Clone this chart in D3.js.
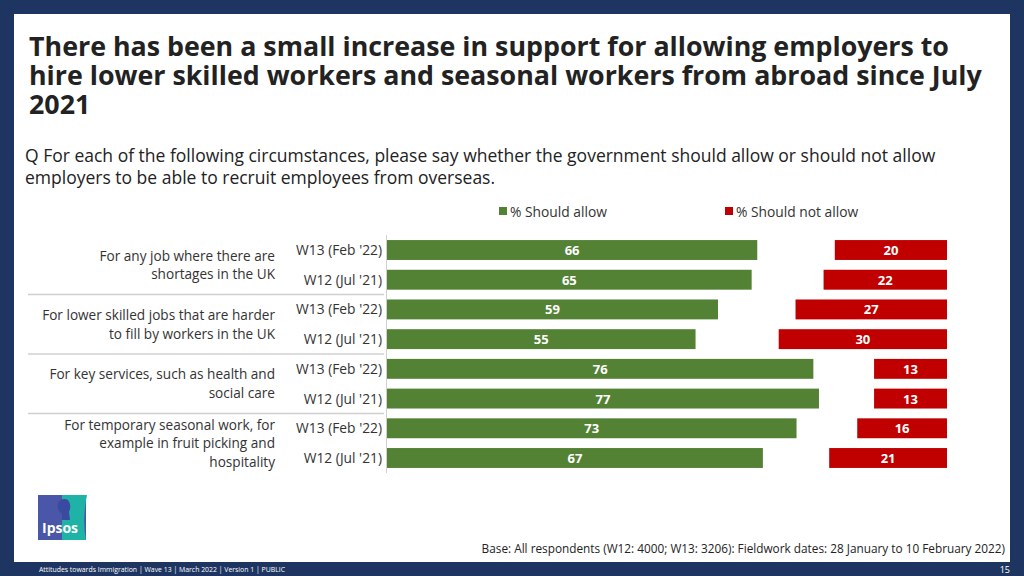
<!DOCTYPE html>
<html><head><meta charset="utf-8">
<script src="https://cdn.jsdelivr.net/npm/d3@7"></script>
<style>body{margin:0;overflow:hidden}svg{display:block;font-family:"Open Sans",sans-serif}</style>
</head><body><svg id="chart" width="1024" height="576"></svg>
<script>
// data
var groups = ["For any job where there are|shortages in the UK",
  "For lower skilled jobs that are harder|to fill by workers in the UK",
  "For key services, such as health and|social care",
  "For temporary seasonal work, for|example in fruit picking and|hospitality"];
var waves = ["W13 (Feb '22)", "W12 (Jul '21)"];
var allow = [66, 65, 59, 55, 76, 77, 73, 67];
var notAllow = [20, 22, 27, 30, 13, 13, 16, 21];
var seriesNames = ["% Should allow", "% Should not allow"];
var colors = ["#548235", "#c00000"];

var svg = d3.select("#chart");
var navy = "#1d3560";
svg.append("rect").attr("width", 1024).attr("height", 576).attr("fill", navy);
svg.append("rect").attr("x", 14).attr("y", 14).attr("width", 996).attr("height", 548).attr("fill", "#fff");

var title = ["There has been a small increase in support for allowing employers to",
  "hire lower skilled workers and seasonal workers from abroad since July", "2021"];
svg.append("text").attr("x", 29).attr("y", 56).attr("font-size", 26.8).attr("font-weight", "bold").attr("fill", "#222")
  .selectAll("tspan").data(title).enter().append("tspan").attr("x", 29).attr("dy", function(d, i) { return i ? 29 : 0; }).text(function(d) { return d; });

svg.append("text").attr("x", 25).attr("y", 162).attr("font-size", 17.5).attr("fill", "#222")
  .selectAll("tspan").data(["Q For each of the following circumstances, please say whether the government should allow or should not allow",
    "employers to be able to recruit employees from overseas."])
  .enter().append("tspan").attr("x", 25).attr("dy", function(d, i) { return i ? 22 : 0; }).text(function(d) { return d; });

// legend
var lx = [499, 725];
seriesNames.forEach(function(n, i) {
  svg.append("rect").attr("x", lx[i]).attr("y", 207).attr("width", 8).attr("height", 8).attr("fill", colors[i]);
  svg.append("text").attr("x", lx[i] + 11).attr("y", 217).attr("font-size", 13.8).attr("fill", "#333").text(n);
});

var rows = d3.range(allow.length);
var y = d3.scaleBand().domain(rows).range([235, 473]).paddingInner(0.33).paddingOuter(0.17);
var x = d3.scaleLinear().domain([0, 100]).range([0, 561]);
var x0 = 387, xr = 947;

svg.append("line").attr("x1", 386.5).attr("x2", 386.5).attr("y1", 235).attr("y2", 473).attr("stroke", "#d0d0d0");

svg.selectAll(".ga").data(allow).enter().append("rect")
  .attr("x", x0).attr("y", function(d, i) { return y(i); }).attr("height", y.bandwidth())
  .attr("width", function(d) { return x(d); }).attr("fill", colors[0]);
svg.selectAll(".gt").data(allow).enter().append("text")
  .attr("x", function(d) { return x0 + x(d) / 2; }).attr("y", function(d, i) { return y(i) + y.bandwidth() / 2 + 5; })
  .attr("text-anchor", "middle").attr("font-size", 13).attr("font-weight", "bold").attr("fill", "#fff").text(function(d) { return d; });
svg.selectAll(".ra").data(notAllow).enter().append("rect")
  .attr("x", function(d) { return xr - x(d); }).attr("y", function(d, i) { return y(i); }).attr("height", y.bandwidth())
  .attr("width", function(d) { return x(d); }).attr("fill", colors[1]);
svg.selectAll(".rt").data(notAllow).enter().append("text")
  .attr("x", function(d) { return xr - x(d) / 2; }).attr("y", function(d, i) { return y(i) + y.bandwidth() / 2 + 5; })
  .attr("text-anchor", "middle").attr("font-size", 13).attr("font-weight", "bold").attr("fill", "#fff").text(function(d) { return d; });

// wave labels
svg.selectAll(".wl").data(rows).enter().append("text")
  .attr("x", 382).attr("y", function(i) { return y(i) + y.bandwidth() / 2 + 5; })
  .attr("text-anchor", "end").attr("font-size", 13.8).attr("fill", "#333").text(function(i) { return waves[i % 2]; });

// group labels and separators
var step = y.step();
groups.forEach(function(g, gi) {
  var lines = g.split("|");
  var cy = y(gi * 2) + step - (step - y.bandwidth()) / 2;
  var t = svg.append("text").attr("font-size", 13.6).attr("fill", "#333").attr("text-anchor", "end");
  lines.forEach(function(l, li) {
    t.append("tspan").attr("x", 275).attr("y", cy + 5 + (li - (lines.length - 1) / 2) * 18.5).text(l);
  });
  if (gi > 0) {
    var sy = y(gi * 2) - (step - y.bandwidth()) / 2;
    svg.append("line").attr("x1", 28).attr("x2", 384).attr("y1", sy).attr("y2", sy).attr("stroke", "#d0d0d0").attr("stroke-width", 1.5);
  }
});

// logo
svg.append("rect").attr("x", 38).attr("y", 495).attr("width", 48).attr("height", 45).attr("fill", "#4a56a8");
svg.append("path").attr("d", "M62,495 H87 Q82,520 86,540 H62 Z").attr("fill", "#1eb3a6");
svg.append("path").attr("d", "M58,503 Q62,497 68,500 Q72,505 69,512 L70,520 L62,520 L62,514 Q56,510 58,503 Z").attr("fill", "#3a4aa0");
svg.append("text").attr("x", 42).attr("y", 533).attr("font-size", 14).attr("font-weight", "bold").attr("fill", "#fff").text("Ipsos");

svg.append("text").attr("x", 1005).attr("y", 553).attr("text-anchor", "end").attr("font-size", 11.8).attr("fill", "#222")
  .text("Base: All respondents (W12: 4000; W13: 3206): Fieldwork dates: 28 January to 10 February 2022)");
svg.append("text").attr("x", 39).attr("y", 572).attr("font-size", 6.9).attr("fill", "#fff")
  .text("Attitudes towards Immigration | Wave 13 | March 2022 | Version 1 | PUBLIC");
svg.append("text").attr("x", 1010).attr("y", 573).attr("text-anchor", "end").attr("font-size", 9).attr("fill", "#fff").text("15");
</script></body></html>
